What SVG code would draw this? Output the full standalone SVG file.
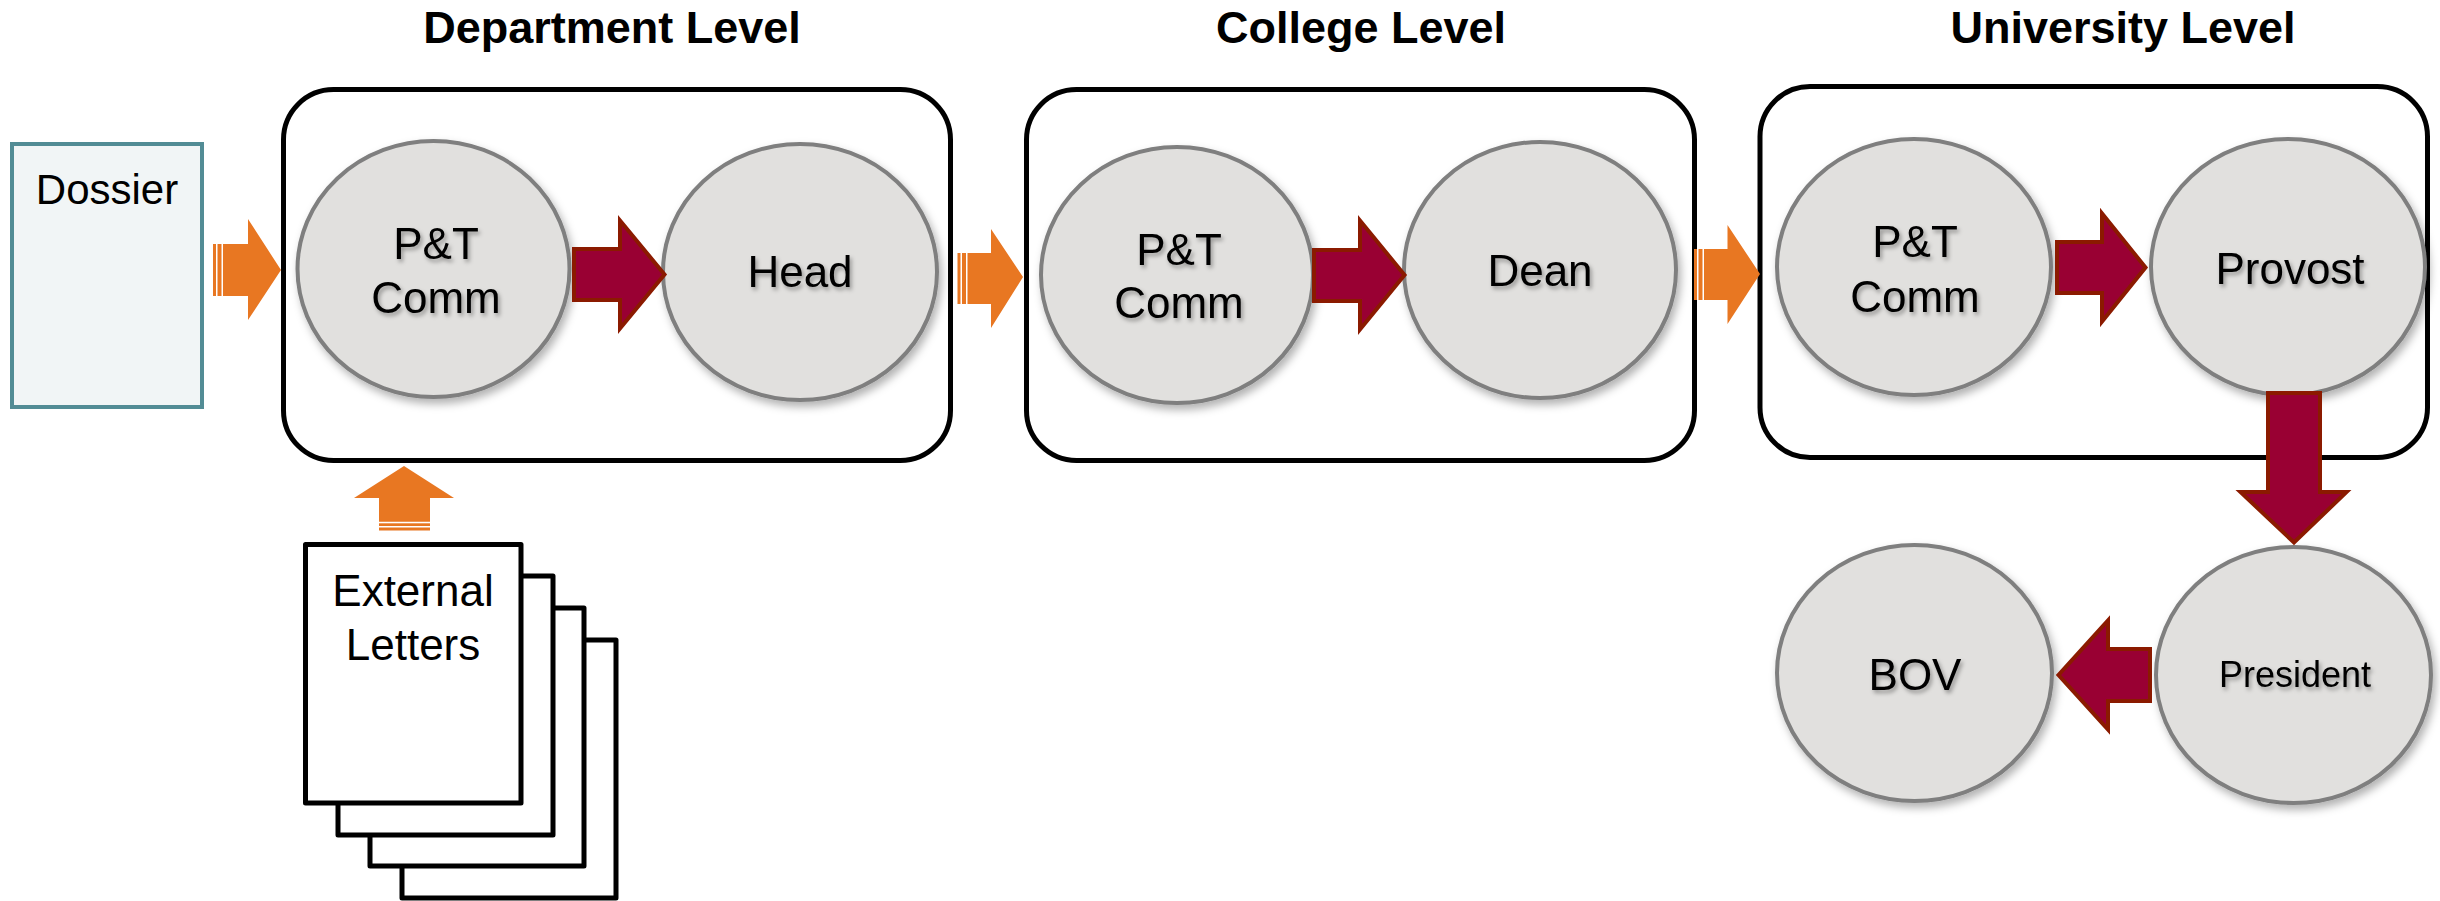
<svg xmlns="http://www.w3.org/2000/svg" width="2440" height="901" viewBox="0 0 2440 901">
<defs>
<filter id="sh" x="-20%" y="-20%" width="140%" height="140%">
<feDropShadow dx="3" dy="5" stdDeviation="4" flood-color="#000" flood-opacity="0.3"/>
</filter>
<filter id="tsh" x="-20%" y="-30%" width="140%" height="160%">
<feDropShadow dx="2" dy="3" stdDeviation="2" flood-color="#000" flood-opacity="0.35"/>
</filter>
<style>
.level{fill:#fff;stroke:#000;stroke-width:5}
.node{fill:#E1E0DE;stroke:#7F7F7F;stroke-width:4;filter:url(#sh)}
.lbl{font-family:"Liberation Sans",Arial,Helvetica,sans-serif;font-size:44px;fill:#000;text-anchor:middle;filter:url(#tsh)}
.title{font-family:"Liberation Sans",Arial,Helvetica,sans-serif;font-size:45px;font-weight:bold;fill:#000;text-anchor:middle}
.plain{font-family:"Liberation Sans",Arial,Helvetica,sans-serif;font-size:44px;fill:#000;text-anchor:middle}
.maroon{fill:#990033;stroke:#8B1A00;stroke-width:4;stroke-linejoin:miter}
.orange{fill:#E87722}
.letter{fill:#fff;stroke:#000;stroke-width:5;stroke-linejoin:round}
</style>
</defs>

<g id="titles">
<text class="title" x="612" y="43">Department Level</text>
<text class="title" x="1361" y="43">College Level</text>
<text class="title" x="2123" y="43">University Level</text>
</g>

<g id="department-level"><rect class="level" x="283.5" y="89.5" width="667" height="371" rx="50" ry="50"/></g>
<g id="college-level"><rect class="level" x="1026.5" y="89.5" width="668" height="371" rx="50" ry="50"/></g>
<g id="university-level"><rect class="level" x="1760" y="86.5" width="667.5" height="371" rx="50" ry="50"/></g>

<g id="dossier">
<rect x="12" y="144" width="190" height="263" fill="#F1F5F6" stroke="#528C95" stroke-width="4"/>
<text class="plain" x="107" y="204" style="font-size:42px">Dossier</text>
</g>

<g id="external-letters">
<rect class="letter" x="402" y="640" width="214" height="258"/>
<rect class="letter" x="370" y="608" width="214" height="258"/>
<rect class="letter" x="338" y="576" width="215" height="259"/>
<rect class="letter" x="305.5" y="544.5" width="215.5" height="258.5"/>
<text class="plain" x="413" y="606">External</text>
<text class="plain" x="413" y="660">Letters</text>
</g>

<g id="dept-pt-comm">
<ellipse class="node" cx="433.5" cy="269" rx="136" ry="128"/>
<text class="lbl" x="436" y="259">P&amp;T</text>
<text class="lbl" x="436" y="313">Comm</text>
</g>
<g id="head">
<ellipse class="node" cx="800" cy="272" rx="137" ry="128"/>
<text class="lbl" x="800" y="287">Head</text>
</g>
<g id="college-pt-comm">
<ellipse class="node" cx="1177" cy="275" rx="136" ry="128"/>
<text class="lbl" x="1179" y="265">P&amp;T</text>
<text class="lbl" x="1179" y="318">Comm</text>
</g>
<g id="dean">
<ellipse class="node" cx="1540" cy="270" rx="136" ry="128"/>
<text class="lbl" x="1540" y="286">Dean</text>
</g>
<g id="univ-pt-comm">
<ellipse class="node" cx="1914" cy="267" rx="137" ry="128"/>
<text class="lbl" x="1915" y="257">P&amp;T</text>
<text class="lbl" x="1915" y="312">Comm</text>
</g>
<g id="provost">
<ellipse class="node" cx="2288" cy="267" rx="137" ry="128"/>
<text class="lbl" x="2290" y="284">Provost</text>
</g>
<g id="bov">
<ellipse class="node" cx="1914.5" cy="673" rx="137.5" ry="128"/>
<text class="lbl" x="1915" y="690">BOV</text>
</g>
<g id="president">
<ellipse class="node" cx="2293.5" cy="675" rx="137.5" ry="128"/>
<text class="lbl" x="2295" y="687" style="font-size:36px">President</text>
</g>

<g id="connectors">
<!-- orange striped arrows -->
<g class="orange">
<rect x="213" y="244" width="3" height="52"/>
<rect x="217.5" y="244" width="4" height="52"/>
<path d="M223,244 H248 V219 L281,270 L248,320 V296 H223 Z"/>

<rect x="957.5" y="253" width="3" height="51"/>
<rect x="962" y="253" width="4" height="51"/>
<path d="M967.5,253 H991 V229 L1023,277 L991,328 V304 H967.5 Z"/>

<rect x="1694" y="249" width="3" height="51"/>
<rect x="1698.5" y="249" width="4" height="51"/>
<path d="M1704,249 H1727.5 V225 L1760,274 L1727.5,324 V300 H1704 Z"/>

<rect x="379" y="527.5" width="51" height="3"/>
<rect x="379" y="523.3" width="51" height="2.7"/>
<path d="M379,521.7 V498 H354 L404,466 L454,498 H430 V521.7 Z"/>
</g>
<!-- maroon arrows -->
<path class="maroon" d="M574,249 H620 V220.5 L664.5,274.5 L620,328.5 V300 H574 Z"/>
<path class="maroon" d="M1314,250 H1360 V220.5 L1404.5,275 L1360,329.5 V301 H1314 Z"/>
<path class="maroon" d="M2057,242 H2102 V213.5 L2145.5,267.5 L2102,321.5 V293 H2057 Z"/>
<path class="maroon" d="M2268,393 V492 H2240.5 L2294,542.5 L2346.5,492 H2320 V393 Z"/>
<path class="maroon" d="M2150,649 H2108 V620.5 L2058.5,675 L2108,729.5 V701 H2150 Z"/>
</g>
</svg>
